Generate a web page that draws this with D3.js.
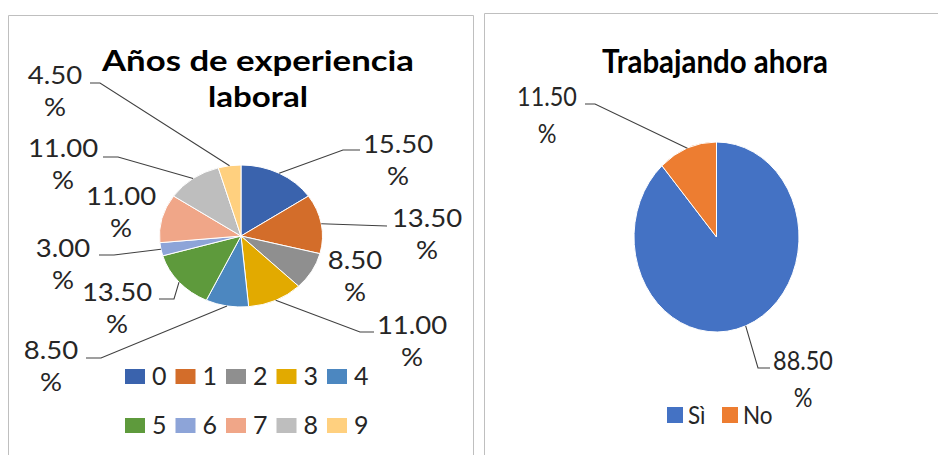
<!DOCTYPE html>
<html>
<head>
<meta charset="utf-8">
<script src="https://cdn.jsdelivr.net/npm/d3@7"></script>
<style>
  html, body { margin: 0; padding: 0; background: #fff; }
  svg { display: block; }
  text { font-family: Lato, "Open Sans", sans-serif; }
</style>
</head>
<body>
<svg id="chart" width="938" height="455"></svg>
<script>
// ---------- data ----------
const expTitle = ["Años de experiencia", "laboral"];
const expCategories = ["0", "1", "2", "3", "4", "5", "6", "7", "8", "9"];
const expValues = [15.5, 13.5, 8.5, 11.0, 8.5, 13.5, 3.0, 11.0, 11.0, 4.5];
const expColors = ["#3A63AD", "#D36D2A", "#8F8F8F", "#E2AA00", "#4C87C0",
                   "#5E9A3C", "#8DA4D8", "#F0A688", "#BEBEBE", "#FFD07F"];

const workTitle = "Trabajando ahora";
const workCategories = ["Sì", "No"];
const workValues = [88.5, 11.5];
const workColors = ["#4472C4", "#ED7D31"];

// ---------- layout (label anchors: centre x, baseline y, optional knee/end of leader) ----------
const expLabelLayout = [
  {cx: 398, y: 153, knee: [343, 150], end: [360, 150]},
  {cx: 427, y: 227, knee: [387, 226], end: [387, 226]},
  {cx: 355, y: 269, knee: null},
  {cx: 412, y: 334, knee: [360, 332], end: [374, 332]},
  {cx: 51,  y: 359, knee: [101, 358], end: [86, 358]},
  {cx: 117, y: 301, knee: [174, 299], end: [159, 299]},
  {cx: 63,  y: 257, knee: [114, 255], end: [99, 255]},
  {cx: 121, y: 205, knee: null},
  {cx: 63,  y: 157, knee: [118, 157], end: [103, 157]},
  {cx: 55,  y: 84,  knee: [100, 83], end: [90, 83]}
];
const workLabelLayout = [
  {cx: 803, y: 370, knee: [758, 368], end: [770, 368]},
  {cx: 547, y: 106, knee: [595, 104], end: [585, 104]}
];

const svg = d3.select("#chart");
const fmt = d3.format(".2f");

// panel borders
svg.append("path")
  .attr("d", "M8.5,460 V15.5 H473.5 V460")
  .attr("fill", "none").attr("stroke", "#BFBFBF").attr("stroke-width", 1);
svg.append("path")
  .attr("d", "M484.5,460 V13.5 H945")
  .attr("fill", "none").attr("stroke", "#BFBFBF").attr("stroke-width", 1);

function drawPie(cfg) {
  const R = 100;
  const pie = d3.pie().sort(null).value(d => d)(cfg.values);
  const arc = d3.arc().innerRadius(0).outerRadius(R);
  const g = svg.append("g")
    .attr("transform", `translate(${cfg.cx},${cfg.cy}) scale(${cfg.rx / R},${cfg.ry / R})`);
  g.selectAll("path").data(pie).join("path")
    .attr("d", arc)
    .attr("fill", (d, i) => cfg.colors[i])
    .attr("stroke", "#fff")
    .attr("stroke-width", 1)
    .attr("vector-effect", "non-scaling-stroke");

  // leader lines + labels
  pie.forEach((d, i) => {
    const L = cfg.layout[i];
    const a = (d.startAngle + d.endAngle) / 2;
    const px = cfg.cx + cfg.rx * Math.sin(a);
    const py = cfg.cy - cfg.ry * Math.cos(a);
    if (L.knee) {
      svg.append("polyline")
        .attr("points", [[px, py], L.knee, L.end].map(p => p.join(",")).join(" "))
        .attr("fill", "none")
        .attr("stroke", "#404040")
        .attr("stroke-width", 1.1);
    }
    const t = svg.append("text")
      .attr("transform", `translate(${L.cx},${L.y}) scale(${cfg.lsx},${cfg.lsy})`)
      .attr("text-anchor", "middle")
      .attr("font-size", cfg.lfs)
      .attr("fill", "#262626");
    t.append("tspan").attr("x", 0).attr("y", 0).text(fmt(cfg.values[i]));
    t.append("tspan").attr("x", 0).attr("y", cfg.lgap).text("%");
  });
}

// ---------- left chart ----------
svg.append("text")
  .attr("x", 258).attr("y", 71)
  .attr("text-anchor", "middle")
  .attr("font-size", 29).attr("font-weight", "bold").attr("fill", "#000")
  .attr("textLength", 312).attr("lengthAdjust", "spacingAndGlyphs")
  .text(expTitle[0]);
svg.append("text")
  .attr("x", 258).attr("y", 107)
  .attr("text-anchor", "middle")
  .attr("font-size", 29).attr("font-weight", "bold").attr("fill", "#000")
  .attr("textLength", 100).attr("lengthAdjust", "spacingAndGlyphs")
  .text(expTitle[1]);

drawPie({cx: 241, cy: 236, rx: 81.5, ry: 71, values: expValues, colors: expColors,
         layout: expLabelLayout, lfs: 25, lsx: 1.1, lsy: 1, lgap: 32});

// legend left
const legX = d3.scalePoint().domain(d3.range(5)).range([125, 327]);
const leg = svg.append("g").selectAll("g").data(expCategories).join("g")
  .attr("transform", (d, i) => `translate(${legX(i % 5)},${i < 5 ? 369 : 418})`);
leg.append("rect").attr("width", 20).attr("height", 15)
  .attr("fill", (d, i) => expColors[i]);
leg.append("text").attr("x", 27).attr("y", 16)
  .attr("font-size", 25).attr("fill", "#262626")
  .text(d => d);

// ---------- right chart ----------
svg.append("text")
  .attr("x", 715).attr("y", 73)
  .attr("text-anchor", "middle")
  .attr("font-size", 33).attr("font-weight", "bold").attr("fill", "#000")
  .attr("textLength", 226).attr("lengthAdjust", "spacingAndGlyphs")
  .text(workTitle);

drawPie({cx: 716.5, cy: 237, rx: 82.5, ry: 95, values: workValues, colors: workColors,
         layout: workLabelLayout, lfs: 26, lsx: 0.9, lsy: 1, lgap: 37});

const leg2X = [667, 722];
const leg2 = svg.append("g").selectAll("g").data(workCategories).join("g")
  .attr("transform", (d, i) => `translate(${leg2X[i]},407)`);
leg2.append("rect").attr("width", 16).attr("height", 16)
  .attr("fill", (d, i) => workColors[i]);
leg2.append("text")
  .attr("transform", "translate(21,17) scale(0.9,1)")
  .attr("font-size", 25).attr("fill", "#262626")
  .text(d => d);
</script>
</body>
</html>
